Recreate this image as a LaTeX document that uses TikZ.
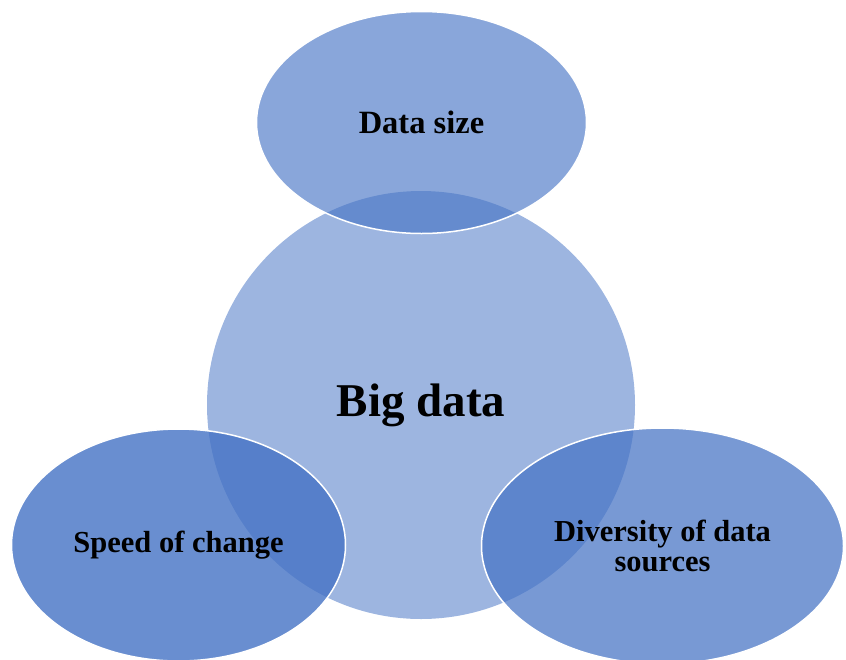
\documentclass[tikz,border=0pt]{standalone}
\usepackage{fontspec}
\setmainfont{Liberation Serif}
\usetikzlibrary{shapes.geometric}
\definecolor{bubbleblue}{HTML}{4472C4}

\begin{document}
\begin{tikzpicture}[x=1pt,y=-1pt,
    bubble/.style={ellipse,fill=bubbleblue,draw=white,line width=1.5pt,
        text opacity=1,align=center,inner sep=0pt,font=\bfseries}]
    \useasboundingbox (0,0) rectangle (846,659);
    \node [bubble,draw=none,fill opacity=0.52,minimum width=428pt,minimum height=428pt,
        font=\bfseries\fontsize{47}{52}\selectfont] (big) at (421,405) {Big data};
    \node [bubble,fill opacity=0.63,minimum width=330pt,minimum height=222pt,
        font=\bfseries\fontsize{32.5}{34}\selectfont] (size) at (421.5,122.5) {Data size};
    \node [bubble,fill opacity=0.8,minimum width=334pt,minimum height=232pt,
        font=\bfseries\fontsize{30.5}{30}\selectfont] (speed) at (178.5,545) {Speed of change};
    \node [bubble,fill opacity=0.72,minimum width=362pt,minimum height=236pt,
        font=\bfseries\fontsize{30.5}{30}\selectfont] (diversity) at (662.5,546) {Diversity of data\\sources};
\end{tikzpicture}
\end{document}
